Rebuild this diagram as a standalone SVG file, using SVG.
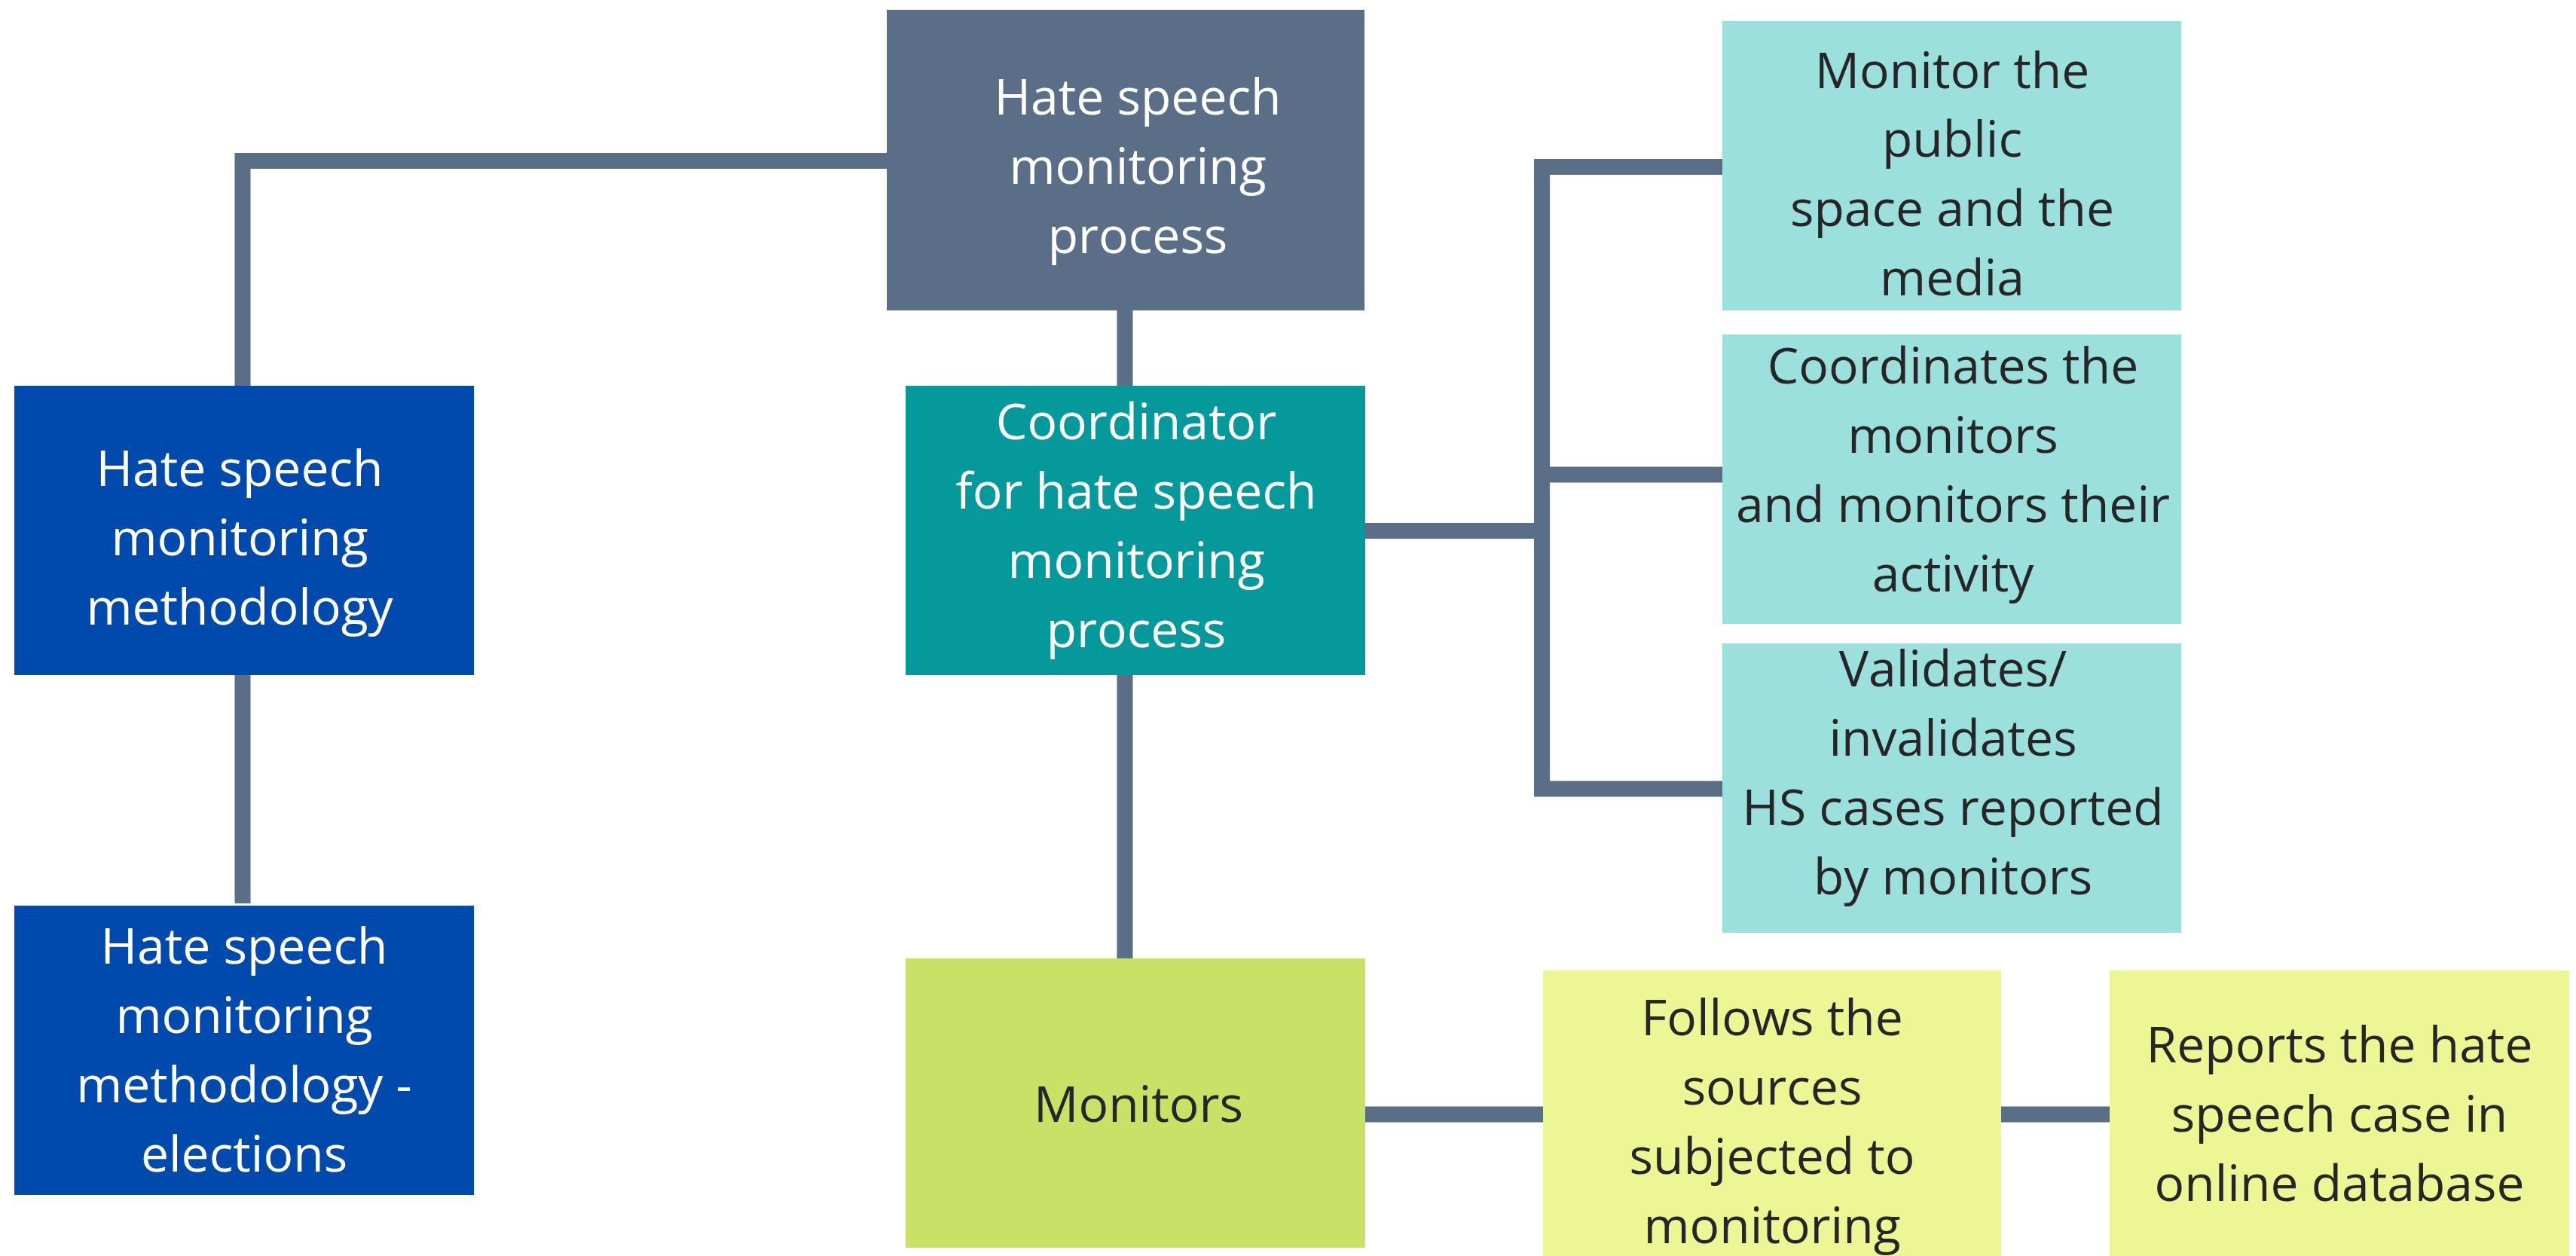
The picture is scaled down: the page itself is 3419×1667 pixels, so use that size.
<svg xmlns="http://www.w3.org/2000/svg" width="3419" height="1667" viewBox="0 0 3419 1667">
<style>
.t{font-family:"Open Sans","Noto Sans","Liberation Sans",sans-serif;font-size:66px;text-anchor:middle}
.w{fill:#ffffff}
.d{fill:#262626}
.c{fill:none;stroke:#5B6E87;stroke-width:21;stroke-linejoin:miter;stroke-linecap:butt}
</style>
<rect width="3419" height="1667" fill="#ffffff"/>
<g id="connectors">
<path class="c" d="M322 514 V213.5 H1178"/>
<path class="c" d="M1493 411 V513"/>
<path class="c" d="M322 895 V1199"/>
<path class="c" d="M1493 895 V1273"/>
<path class="c" d="M1811 704.5 H2046"/>
<path class="c" d="M2287 221.5 H2046.5 V1047 H2287"/>
<path class="c" d="M2046 630 H2287"/>
<path class="c" d="M1811 1479 H2049"/>
<path class="c" d="M2655 1479 H2801"/>
</g>
<g id="process">
<rect x="1177" y="13" width="634" height="399" fill="#5B6E87"/>
<text class="t w"><tspan x="1510" y="152">Hate speech</tspan><tspan x="1510" y="244">monitoring</tspan><tspan x="1510" y="336">process</tspan></text>
</g>
<g id="methodology">
<rect x="19" y="512" width="610" height="384" fill="#004AAD"/>
<text class="t w"><tspan x="318" y="645">Hate speech</tspan><tspan x="318" y="737">monitoring</tspan><tspan x="318" y="829">methodology</tspan></text>
</g>
<g id="methodology-elections">
<rect x="19" y="1202" width="610" height="384" fill="#004AAD"/>
<text class="t w"><tspan x="324" y="1279">Hate speech</tspan><tspan x="324" y="1371">monitoring</tspan><tspan x="324" y="1463">methodology -</tspan><tspan x="324" y="1555">elections</tspan></text>
</g>
<g id="coordinator">
<rect x="1202" y="512" width="610" height="384" fill="#05999C"/>
<text class="t w"><tspan x="1508" y="583">Coordinator</tspan><tspan x="1508" y="675">for hate speech</tspan><tspan x="1508" y="767">monitoring</tspan><tspan x="1508" y="859">process</tspan></text>
</g>
<g id="monitors">
<rect x="1202" y="1272" width="610" height="384" fill="#C9E166"/>
<text class="t d" x="1511" y="1489">Monitors</text>
</g>
<g id="monitor-public">
<rect x="2286" y="28" width="609" height="384" fill="#9CE0DE"/>
<text class="t d"><tspan x="2591" y="117">Monitor the</tspan><tspan x="2591" y="208">public</tspan><tspan x="2591" y="300">space and the</tspan><tspan x="2591" y="392">media</tspan></text>
</g>
<g id="coordinates-monitors">
<rect x="2286" y="444" width="609" height="384" fill="#9CE0DE"/>
<text class="t d"><tspan x="2592" y="509">Coordinates the</tspan><tspan x="2592" y="601">monitors</tspan><tspan x="2592" y="693">and monitors their</tspan><tspan x="2592" y="785">activity</tspan></text>
</g>
<g id="validates">
<rect x="2286" y="854" width="609" height="384" fill="#9CE0DE"/>
<text class="t d"><tspan x="2592" y="911">Validates/</tspan><tspan x="2592" y="1003">invalidates</tspan><tspan x="2592" y="1095">HS cases reported</tspan><tspan x="2592" y="1187">by monitors</tspan></text>
</g>
<g id="follows">
<rect x="2048" y="1288" width="608" height="379" fill="#EDF694"/>
<text class="t d"><tspan x="2352" y="1374">Follows the</tspan><tspan x="2352" y="1466">sources</tspan><tspan x="2352" y="1558">subjected to</tspan><tspan x="2352" y="1650">monitoring</tspan></text>
</g>
<g id="reports">
<rect x="2800" y="1288" width="610" height="379" fill="#EDF694"/>
<text class="t d"><tspan x="3105" y="1410">Reports the hate</tspan><tspan x="3105" y="1502">speech case in</tspan><tspan x="3105" y="1594">online database</tspan></text>
</g>
</svg>
